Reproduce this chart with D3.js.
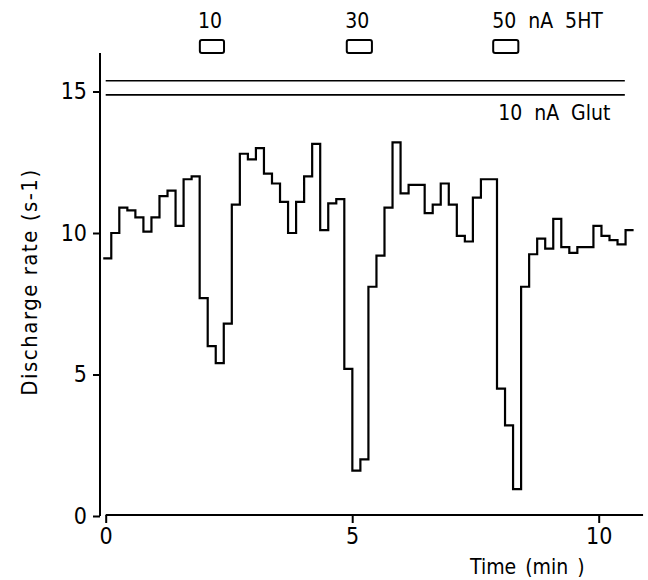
<!DOCTYPE html>
<html>
<head>
<meta charset="utf-8">
<script src="https://cdn.jsdelivr.net/npm/d3@7"></script>
<style>
  body { margin: 0; background: #fff; }
  text { font-family: "DejaVu Sans Condensed", "DejaVu Sans", sans-serif; fill: #000; }
</style>
</head>
<body>
<div class="canvas"></div>
<script>
const [width, height] = [648, 580];

// discharge rate per 10 s bin (s-1)
const rates = [9.1, 10.0, 10.9, 10.8, 10.55, 10.05, 10.55, 11.3, 11.5, 10.25, 11.9, 12.0,
  7.7, 6.0, 5.4, 6.8, 11.0, 12.8, 12.6, 13.0, 12.1, 11.75, 11.1, 10.0, 11.1, 12.0,
  13.15, 10.1, 11.05, 11.2, 5.2, 1.6, 2.0, 8.1, 9.2, 10.9, 13.2, 11.4, 11.7, 11.7,
  10.7, 11.0, 11.75, 11.0, 9.9, 9.7, 11.25, 11.9, 11.9, 4.5, 3.2, 0.95, 8.1, 9.25,
  9.8, 9.45, 10.5, 9.5, 9.3, 9.5, 9.5, 10.25, 9.9, 9.75, 9.6, 10.1];
const binStart = -0.05;   // min
const binWidth = 0.163;   // min

// 5HT pulses (start, end in min) and their labels
const pulses = [[1.91, 2.40], [4.89, 5.40], [7.86, 8.37]];
const pulseLabels = ['10', '30', '50 nA 5HT'];

// glutamate applied the whole time: drawn as a bar between these two rates
const glutBar = [14.88, 15.38];
const glutSpan = [0, 10.53];

const xTicks = [0, 5, 10];
const yTicks = [0, 5, 10, 15];

const svg = d3.select('.canvas')
  .append('svg')
  .attr('width', width)
  .attr('height', height);

const x = d3.scaleLinear().domain([0, 10]).range([105.7, 598.7]);
const y = d3.scaleLinear().domain([0, 15]).range([516, 91.5]);

// y axis: own line so it can run past 15
const yAxis = d3.axisLeft(y).tickValues(yTicks).tickSize(7).tickPadding(6).tickSizeOuter(0);
const gy = svg.append('g').attr('transform', 'translate(100,0)').call(yAxis);
gy.select('.domain').remove();
gy.append('line')
  .attr('x1', 0).attr('x2', 0)
  .attr('y1', 53).attr('y2', y(0))
  .attr('stroke', '#000').attr('stroke-width', 2);
gy.selectAll('.tick line').attr('stroke-width', 2);
gy.selectAll('.tick text').attr('font-size', 23).attr('fill', '#000');

const xAxis = d3.axisBottom(x).tickValues(xTicks).tickSize(8).tickPadding(5).tickSizeOuter(0);
const gx = svg.append('g').attr('transform', `translate(0,${y(0) - 1})`).call(xAxis);
gx.select('.domain').remove();
gx.append('line')
  .attr('x1', x(0)).attr('x2', x(10.9))
  .attr('stroke', '#000').attr('stroke-width', 2);
gx.selectAll('.tick line').attr('stroke-width', 2);
gx.selectAll('.tick text').attr('font-size', 23).attr('fill', '#000');

// axis titles
svg.append('text')
  .attr('transform', 'translate(37,282) rotate(-90)')
  .attr('text-anchor', 'middle')
  .attr('font-size', 22)
  .attr('letter-spacing', 1.5)
  .text('Discharge rate (s-1)');

svg.append('text')
  .attr('x', 470).attr('y', 574)
  .attr('font-size', 21)
  .attr('word-spacing', 3)
  .text('Time (min )');

// glutamate bar
svg.selectAll('line.glut')
  .data(glutBar)
  .enter()
  .append('line')
  .attr('class', 'glut')
  .attr('x1', x(glutSpan[0])).attr('x2', x(glutSpan[1]))
  .attr('y1', d => y(d)).attr('y2', d => y(d))
  .attr('stroke', '#000').attr('stroke-width', 1.6);

svg.append('text')
  .attr('x', x(7.96)).attr('y', 120)
  .attr('font-size', 21)
  .attr('word-spacing', 6)
  .text('10 nA Glut');

// 5HT pulses
svg.selectAll('rect.pulse')
  .data(pulses)
  .enter()
  .append('rect')
  .attr('class', 'pulse')
  .attr('x', d => x(d[0]))
  .attr('y', 40)
  .attr('width', d => x(d[1]) - x(d[0]))
  .attr('height', 13)
  .attr('rx', 2)
  .attr('fill', '#fff')
  .attr('stroke', '#000')
  .attr('stroke-width', 2);

svg.selectAll('text.pulse')
  .data(pulses)
  .enter()
  .append('text')
  .attr('class', 'pulse')
  .attr('x', (d, i) => i < 2 ? x((d[0] + d[1]) / 2) - 2 : x(d[0]) - 1)
  .attr('y', 28)
  .attr('text-anchor', (d, i) => i < 2 ? 'middle' : 'start')
  .attr('font-size', 21)
  .attr('word-spacing', 6)
  .text((d, i) => pulseLabels[i]);

// the rate trace
const points = rates.map((r, i) => [binStart + i * binWidth, r]);
points.push([binStart + rates.length * binWidth, rates[rates.length - 1]]);

const lineGenerator = d3.line()
  .x(d => x(d[0]))
  .y(d => y(d[1]))
  .curve(d3.curveStepAfter);

svg.append('path')
  .attr('d', lineGenerator(points))
  .attr('fill', 'none')
  .attr('stroke', '#000')
  .attr('stroke-width', 2.2)
  .attr('stroke-linejoin', 'miter');
</script>
</body>
</html>
